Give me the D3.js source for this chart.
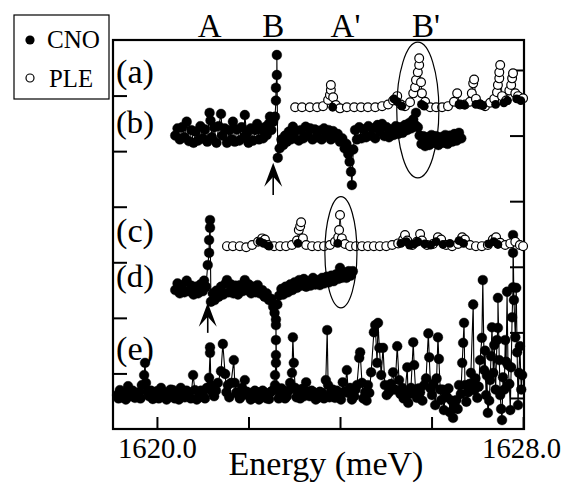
<!DOCTYPE html>
<html><head><meta charset="utf-8">
<script src="https://cdn.jsdelivr.net/npm/d3@7"></script>
<style>
body{margin:0;background:#fff}
svg{display:block}
</style>
</head><body>
<svg id="c" width="572" height="485"></svg>
<script>
// ---------------- data ----------------
const energyTicks = [1620, 1622, 1624, 1626, 1628];
const energyTickLabels = ["1620.0", "", "", "", "1628.0"];
const leftTicks = [1, 2, 3, 4, 5, 6];
const rightTicks = [1, 2, 3, 4, 5, 6];
const panelNames = ["(a)", "(b)", "(c)", "(d)", "(e)"];
const traceOffsets = [5.79, 5.33, 3.29, 2.54, 0.61];   // a, b, c, d, e
const legendNames = ["CNO", "PLE"];
const featureNames = ["A", "B", "A'", "B'"];
const featureEnergies = [1621.15, 1622.54, 1624.12, 1625.88];

// (a) PLE  [energy meV, intensity]
const pleA = [[1623.02,0],[1623.17,0],[1623.34,0],[1623.50,0],[1623.63,0.02],[1623.74,0.13],[1623.78,0.22],[1623.80,0.31],[1623.80,0.40],[1623.85,0.18],[1623.91,0.04],[1624.00,-0.02],[1624.15,0],[1624.31,0],[1624.46,0],[1624.61,0],[1624.77,0],[1624.92,0.02],[1625.05,0.05],[1625.16,0.12],[1625.25,0.20],[1625.33,0.05],[1625.42,0.02],[1625.53,0.09],[1625.60,0.25],[1625.64,0.36],[1625.66,0.49],[1625.70,0.63],[1625.73,0.76],[1625.73,0.88],[1625.77,0.45],[1625.79,0.25],[1625.86,0.10],[1625.97,0],[1626.10,0],[1626.23,0],[1626.36,0.02],[1626.49,0.10],[1626.56,0.25],[1626.62,0.05],[1626.73,0.05],[1626.84,0.10],[1626.88,0.25],[1626.91,0.43],[1626.93,0.50],[1626.97,0.15],[1627.06,0.05],[1627.17,0.02],[1627.28,0.08],[1627.37,0.15],[1627.43,0.27],[1627.45,0.40],[1627.48,0.52],[1627.48,0.63],[1627.50,0.76],[1627.54,0.20],[1627.63,0.12],[1627.70,0.30],[1627.74,0.40],[1627.76,0.52],[1627.78,0.61],[1627.83,0.25],[1627.89,0.20],[1628.00,0.16]];
const cnoA = [[1623.84,0.0],[1625.18,0.15],[1625.25,0.10],[1625.35,0.02],[1625.78,0.05],[1625.84,0.02],[1626.60,0.05],[1626.72,0.04],[1626.97,0.05],[1627.06,0.06],[1627.12,0.03],[1627.40,0.05],[1627.58,0.08],[1627.66,0.12],[1627.86,0.15],[1627.95,0.12]];

// (b) CNO
const cnoB = [[1620.40,-0.05],[1620.45,0.08],[1620.50,-0.12],[1620.55,0.10],[1620.60,-0.08],[1620.65,0.20],[1620.70,-0.15],[1620.75,0.05],[1620.80,-0.18],[1620.85,0.02],[1620.90,-0.14],[1620.95,0.12],[1621.00,-0.10],[1621.05,0.06],[1621.10,-0.16],[1621.15,0.36],[1621.17,0.22],[1621.20,-0.08],[1621.25,0.10],[1621.30,-0.18],[1621.35,0.12],[1621.40,0.34],[1621.43,-0.05],[1621.48,0.08],[1621.53,-0.18],[1621.58,0.05],[1621.63,-0.12],[1621.66,0.20],[1621.70,-0.16],[1621.75,0.06],[1621.80,-0.14],[1621.85,0.10],[1621.90,-0.08],[1621.92,0.32],[1621.96,-0.02],[1622.00,-0.18],[1622.05,0.08],[1622.10,-0.14],[1622.15,0.05],[1622.19,0.16],[1622.23,-0.12],[1622.28,0.06],[1622.32,-0.10],[1622.36,0.10],[1622.40,-0.04],[1622.44,0.16],[1622.47,0.29],[1622.50,0.05],[1622.54,0.20],[1622.58,0.29],[1622.60,0.58],[1622.60,0.81],[1622.62,1.04],[1622.62,1.40],[1622.64,-0.45],[1622.68,-0.28],[1622.72,-0.12],[1622.76,-0.22],[1622.80,-0.05],[1622.84,-0.16],[1622.88,0.02],[1622.92,-0.12],[1622.97,0.11],[1623.01,-0.10],[1623.05,0.04],[1623.10,-0.14],[1623.15,0.05],[1623.20,-0.10],[1623.25,0.11],[1623.30,-0.05],[1623.35,0.08],[1623.40,-0.12],[1623.45,0.06],[1623.50,-0.08],[1623.55,0.04],[1623.60,-0.12],[1623.65,0.08],[1623.70,-0.04],[1623.75,0.05],[1623.80,-0.12],[1623.85,0.03],[1623.90,-0.08],[1623.95,-0.02],[1624.00,-0.16],[1624.05,-0.10],[1624.10,-0.28],[1624.14,-0.20],[1624.18,-0.38],[1624.21,-0.52],[1624.24,-0.70],[1624.26,-0.94],[1624.29,-0.30],[1624.33,0.05],[1624.37,-0.12],[1624.42,0.10],[1624.47,-0.10],[1624.52,0.06],[1624.57,-0.08],[1624.62,0.12],[1624.67,-0.05],[1624.72,0.08],[1624.77,-0.10],[1624.82,0.14],[1624.87,0.02],[1624.92,0.16],[1624.97,-0.06],[1625.02,0.10],[1625.07,-0.08],[1625.12,0.06],[1625.17,-0.04],[1625.22,0.12],[1625.27,-0.02],[1625.32,0.10],[1625.37,0.0],[1625.42,0.14],[1625.47,0.05],[1625.52,0.18],[1625.56,0.08],[1625.60,0.24],[1625.64,0.14],[1625.66,0.36],[1625.70,0.10],[1625.74,-0.05],[1625.78,-0.20],[1625.82,-0.06],[1625.86,-0.24],[1625.90,-0.08],[1625.95,-0.22],[1626.00,-0.04],[1626.05,-0.18],[1626.10,-0.06],[1626.15,-0.22],[1626.20,-0.08],[1626.25,-0.18],[1626.30,-0.04],[1626.35,-0.20],[1626.40,-0.05],[1626.45,-0.16],[1626.50,-0.02],[1626.55,-0.14],[1626.60,0.0],[1626.65,-0.10]];

// (c) PLE
const pleC = [[1621.53,0],[1621.66,0],[1621.81,0],[1621.95,-0.02],[1622.08,0.02],[1622.21,0.08],[1622.30,0.14],[1622.36,0.12],[1622.43,0.02],[1622.56,0],[1622.69,0],[1622.82,0],[1622.95,0.02],[1623.06,0.10],[1623.10,0.29],[1623.13,0.36],[1623.15,0.43],[1623.19,0.14],[1623.26,0.02],[1623.39,0],[1623.52,0],[1623.65,0],[1623.78,0.02],[1623.89,0.08],[1623.96,0.16],[1623.98,0.29],[1624.00,0.56],[1624.04,0.14],[1624.11,0.04],[1624.22,0],[1624.35,0],[1624.48,0],[1624.61,0],[1624.74,0],[1624.87,0],[1625.01,0],[1625.14,0.02],[1625.27,0.05],[1625.38,0.12],[1625.42,0.20],[1625.47,0.10],[1625.58,0.02],[1625.68,0.08],[1625.75,0.22],[1625.79,0.10],[1625.90,0.02],[1626.03,0.04],[1626.14,0.16],[1626.21,0.12],[1626.32,0.02],[1626.45,0],[1626.58,0.04],[1626.67,0.16],[1626.73,0.12],[1626.84,0.02],[1626.97,0],[1627.10,0],[1627.23,0.02],[1627.34,0.12],[1627.41,0.16],[1627.50,0.06],[1627.61,0.02],[1627.72,0.05],[1627.83,0.08],[1627.93,0.02],[1628.00,0]];
const cnoC = [[1622.25,0.08],[1622.33,0.05],[1622.45,0.0],[1623.08,0.05],[1623.95,0.05],[1625.33,0.05],[1625.45,0.08],[1625.52,0.02],[1625.62,0.04],[1625.70,0.08],[1625.85,0.04],[1625.98,0.02],[1626.10,0.08],[1626.25,0.03],[1626.40,0.05],[1626.60,0.10],[1626.70,0.05],[1627.25,0.04],[1627.36,0.08],[1627.45,0.03]];

// (d) CNO
const cnoD = [[1620.40,-0.04],[1620.45,0.08],[1620.50,-0.10],[1620.55,0.05],[1620.60,-0.08],[1620.65,0.13],[1620.70,-0.06],[1620.75,0.04],[1620.80,-0.12],[1620.85,0.02],[1620.90,-0.10],[1620.95,0.06],[1621.00,-0.06],[1621.03,0.13],[1621.07,0.02],[1621.11,0.41],[1621.14,0.63],[1621.14,0.86],[1621.16,1.08],[1621.16,1.22],[1621.18,-0.25],[1621.22,-0.10],[1621.26,-0.22],[1621.30,-0.05],[1621.35,-0.16],[1621.40,0.02],[1621.45,-0.12],[1621.50,0.08],[1621.53,0.14],[1621.57,-0.08],[1621.62,0.06],[1621.67,-0.10],[1621.72,0.04],[1621.77,-0.12],[1621.82,0.05],[1621.87,-0.06],[1621.92,0.14],[1621.96,-0.04],[1622.01,0.06],[1622.06,-0.10],[1622.11,0.02],[1622.16,-0.08],[1622.20,0.05],[1622.25,-0.10],[1622.30,-0.04],[1622.35,-0.16],[1622.40,-0.10],[1622.45,-0.22],[1622.50,-0.20],[1622.54,-0.34],[1622.57,-0.45],[1622.60,-0.57],[1622.63,-0.30],[1622.67,-0.14],[1622.72,-0.02],[1622.76,-0.12],[1622.81,0.02],[1622.86,-0.08],[1622.91,0.06],[1622.96,-0.04],[1623.01,0.10],[1623.06,0.0],[1623.11,0.14],[1623.16,0.04],[1623.21,0.16],[1623.26,0.02],[1623.31,0.12],[1623.36,0.04],[1623.41,0.18],[1623.46,0.06],[1623.51,0.14],[1623.56,0.05],[1623.61,0.18],[1623.66,0.08],[1623.71,0.20],[1623.76,0.10],[1623.81,0.22],[1623.86,0.12],[1623.91,0.24],[1623.96,0.16],[1624.00,0.36],[1624.04,0.18],[1624.09,0.28],[1624.14,0.18],[1624.19,0.30],[1624.24,0.22],[1624.28,0.30]];

// (e) CNO
const cnoE = [[1619.13,0],[1619.16,-0.06],[1619.19,0.09],[1619.23,-0.04],[1619.28,0.04],[1619.32,-0.08],[1619.37,0.16],[1619.40,0.05],[1619.43,-0.02],[1619.47,0.08],[1619.52,-0.05],[1619.56,0.02],[1619.61,0.05],[1619.64,-0.06],[1619.67,0.18],[1619.72,0.36],[1619.74,0.58],[1619.76,0.22],[1619.79,0.06],[1619.83,-0.02],[1619.87,0.08],[1619.91,-0.07],[1619.95,0.04],[1620.00,0.07],[1620.04,-0.06],[1620.09,0.13],[1620.13,-0.02],[1620.17,0.05],[1620.21,-0.08],[1620.26,-0.02],[1620.30,0.10],[1620.35,0.09],[1620.39,-0.06],[1620.44,0.02],[1620.48,-0.08],[1620.52,0.13],[1620.56,0.0],[1620.61,-0.04],[1620.65,0.08],[1620.70,0.05],[1620.74,-0.06],[1620.79,0.36],[1620.83,0.09],[1620.87,-0.08],[1620.92,-0.04],[1620.96,0.08],[1621.01,0.05],[1621.05,-0.06],[1621.09,0.13],[1621.14,0.31],[1621.16,0.76],[1621.16,0.86],[1621.18,0.18],[1621.22,0.04],[1621.25,-0.02],[1621.29,0.08],[1621.33,0.22],[1621.40,0.43],[1621.44,0.92],[1621.49,0.38],[1621.52,0.05],[1621.55,0.18],[1621.58,-0.04],[1621.62,0.22],[1621.68,0.63],[1621.70,0.22],[1621.74,0.05],[1621.77,0.02],[1621.81,-0.06],[1621.86,0.13],[1621.89,0.0],[1621.92,0.27],[1621.96,0.06],[1622.01,0.04],[1622.05,-0.08],[1622.10,-0.05],[1622.14,0.08],[1622.19,0.05],[1622.23,-0.08],[1622.27,-0.04],[1622.31,0.08],[1622.36,0.04],[1622.40,-0.06],[1622.45,-0.07],[1622.49,0.06],[1622.54,0.09],[1622.58,0.18],[1622.58,0.36],[1622.60,0.58],[1622.60,0.72],[1622.60,0.99],[1622.60,1.26],[1622.62,0.13],[1622.66,-0.06],[1622.69,0],[1622.72,0.12],[1622.75,0.09],[1622.80,-0.06],[1622.84,-0.02],[1622.88,0.08],[1622.91,0.22],[1622.95,0.40],[1622.97,1.04],[1622.99,0.58],[1623.02,0.13],[1623.05,-0.04],[1623.08,0.04],[1623.13,-0.06],[1623.17,0.11],[1623.21,-0.02],[1623.26,0.23],[1623.30,0.06],[1623.34,-0.02],[1623.38,0.08],[1623.43,0.05],[1623.47,-0.08],[1623.52,-0.05],[1623.56,0.06],[1623.61,0.04],[1623.65,-0.06],[1623.69,0.27],[1623.72,1.17],[1623.74,0.18],[1623.77,-0.04],[1623.80,0.05],[1623.84,0.10],[1623.89,-0.05],[1623.93,0.08],[1623.98,0.04],[1624.02,-0.08],[1624.06,0.23],[1624.10,0.06],[1624.15,0.45],[1624.18,0.04],[1624.22,0.13],[1624.26,-0.08],[1624.31,-0.02],[1624.34,0.10],[1624.37,0.18],[1624.42,0.67],[1624.44,0.77],[1624.48,0.22],[1624.51,-0.06],[1624.55,0.05],[1624.58,-0.10],[1624.61,0.18],[1624.64,0.04],[1624.68,0.41],[1624.74,1.13],[1624.77,1.26],[1624.81,0.58],[1624.83,1.30],[1624.86,0.85],[1624.90,0.36],[1624.94,0.85],[1624.98,0.18],[1625.02,0.0],[1625.07,0.05],[1625.11,0.20],[1625.16,0.41],[1625.20,0.10],[1625.25,0.88],[1625.29,0.27],[1625.32,0.02],[1625.36,0.13],[1625.39,-0.06],[1625.42,0.04],[1625.47,0.50],[1625.49,-0.14],[1625.52,0.02],[1625.55,0.13],[1625.60,0.95],[1625.62,0.54],[1625.65,0.10],[1625.68,-0.05],[1625.72,0.12],[1625.75,0.05],[1625.80,-0.10],[1625.84,0.18],[1625.88,0.30],[1625.93,1.11],[1625.95,0.68],[1625.98,0.12],[1626.01,0],[1626.04,0.20],[1626.08,-0.18],[1626.11,0.30],[1626.14,1.04],[1626.16,0.65],[1626.19,0.10],[1626.21,-0.09],[1626.24,0.10],[1626.27,-0.27],[1626.31,0.08],[1626.34,-0.04],[1626.37,0.12],[1626.40,-0.31],[1626.44,-0.10],[1626.47,-0.41],[1626.50,-0.20],[1626.54,-0.09],[1626.57,-0.25],[1626.60,0.18],[1626.64,0.02],[1626.67,0.58],[1626.69,0.94],[1626.71,1.30],[1626.73,0.18],[1626.76,-0.12],[1626.80,0.05],[1626.83,0.20],[1626.86,0.40],[1626.91,1.63],[1626.93,0.09],[1626.96,0.30],[1627.00,-0.05],[1627.03,0.15],[1627.06,0.63],[1627.10,1.03],[1627.12,2.07],[1627.15,0.45],[1627.17,0.80],[1627.19,0],[1627.21,0.35],[1627.23,-0.32],[1627.26,-0.10],[1627.28,0.27],[1627.30,0.70],[1627.32,1.22],[1627.35,0.40],[1627.37,0.90],[1627.40,0.10],[1627.43,0.99],[1627.45,1.21],[1627.45,1.75],[1627.48,0.63],[1627.50,0],[1627.52,-0.25],[1627.54,-0.45],[1627.56,0.32],[1627.59,0.10],[1627.61,0.99],[1627.63,0.60],[1627.65,1.86],[1627.67,0.54],[1627.70,0.20],[1627.72,-0.27],[1627.74,0.50],[1627.76,1.40],[1627.78,1.94],[1627.78,2.56],[1627.78,2.88],[1627.80,1.71],[1627.83,1.04],[1627.85,1.93],[1627.87,0.77],[1627.89,-0.18],[1627.91,0.40],[1627.93,0.88],[1627.96,0.10],[1627.98,0.36]];

// annotations in data coordinates
const ellipses = [[1625.70, 5.74, 0.46, 1.22], [1624.02, 3.18, 0.35, 1.00]]; // [E, I, rx meV, ry]
const arrows = [[1622.54, 4.79, 4.21], [1621.11, 2.27, 1.73]];                // [E, tip, tail]

// ---------------- drawing ----------------
const FONT = '"Liberation Serif", "Times New Roman", Tinos, serif';
const svg = d3.select("#c");
const L = 113, R = 524, T = 40, B = 429;
const x = d3.scaleLinear().domain([1619.04, 1628.02]).range([L, R]);
const y = d3.scaleLinear().domain([0, 7]).range([B, T]);
const yR = d3.scaleLinear().domain([0.527, 6.457]).range([B, T]);

function fitWidth(sel, w) {
  const n = sel.node();
  const cur = n.getComputedTextLength();
  if (cur > 0) {
    const fs = parseFloat(sel.attr("font-size"));
    sel.attr("font-size", (fs * w / cur).toFixed(2));
  }
  return sel;
}
function addText(px, py, txt, size, anchor) {
  return svg.append("text").attr("x", px).attr("y", py).attr("font-size", size)
    .attr("text-anchor", anchor || "start").style("font-family", FONT)
    .attr("fill", "#000").text(txt);
}

// axes
const gx = svg.append("g").attr("transform", `translate(0,${B})`)
  .call(d3.axisBottom(x).tickValues(energyTicks).tickSize(-12).tickPadding(9)
    .tickFormat((d, i) => energyTickLabels[i]));
gx.select(".domain").remove();
gx.selectAll(".tick line").attr("stroke", "#000").attr("stroke-width", 2);
gx.selectAll(".tick text").attr("font-size", 28).style("font-family", FONT).attr("fill", "#000")
  .each(function () { if (this.textContent) fitWidth(d3.select(this), 79); });
gx.selectAll(".tick text").filter((d) => d === 1628).attr("dx", -2);

const gl = svg.append("g").attr("transform", `translate(${L},0)`)
  .call(d3.axisLeft(y).tickValues(leftTicks).tickSize(-14).tickFormat(""));
gl.select(".domain").remove();
gl.selectAll(".tick line").attr("stroke", "#000").attr("stroke-width", 2);

const gr = svg.append("g").attr("transform", `translate(${R},0)`)
  .call(d3.axisRight(yR).tickValues(rightTicks).tickSize(-14).tickFormat(""));
gr.select(".domain").remove();
gr.selectAll(".tick line").attr("stroke", "#000").attr("stroke-width", 2);

// frame
svg.append("rect").attr("x", L).attr("y", T).attr("width", R - L).attr("height", B - T)
  .attr("fill", "none").attr("stroke", "#000").attr("stroke-width", 2.2);

function drawTrace(pts, off, open) {
  const line = d3.line().x(d => x(d[0])).y(d => y(d[1] + off));
  const g = svg.append("g");
  g.append("path").attr("d", line(pts)).attr("fill", "none")
    .attr("stroke", "#000").attr("stroke-width", open ? 0.9 : 1.1);
  g.selectAll("circle").data(pts).join("circle")
    .attr("cx", d => x(d[0])).attr("cy", d => y(d[1] + off))
    .attr("r", open ? 4.4 : 4.9)
    .attr("fill", open ? "#fff" : "#000")
    .attr("stroke", "#000").attr("stroke-width", open ? 1.2 : 0.4);
}
function drawDots(pts, off) {
  svg.append("g").selectAll("circle").data(pts).join("circle")
    .attr("cx", d => x(d[0])).attr("cy", d => y(d[1] + off))
    .attr("r", 4.4).attr("fill", "#000");
}

drawTrace(cnoE, traceOffsets[4], false);
drawTrace(cnoD, traceOffsets[3], false);
drawTrace(pleC, traceOffsets[2], true);
drawDots(cnoC, traceOffsets[2]);
drawTrace(cnoB, traceOffsets[1], false);
drawTrace(pleA, traceOffsets[0], true);
drawDots(cnoA, traceOffsets[0]);

// ellipses
ellipses.forEach(e => {
  svg.append("ellipse").attr("cx", x(e[0])).attr("cy", y(e[1]))
    .attr("rx", x(e[0] + e[2]) - x(e[0])).attr("ry", y(e[1] - e[3]) - y(e[1]))
    .attr("fill", "none").attr("stroke", "#000").attr("stroke-width", 1.2);
});

// arrows
arrows.forEach(a => {
  const ax = x(a[0]), tip = y(a[1]), tail = y(a[2]);
  svg.append("line").attr("x1", ax).attr("x2", ax).attr("y1", tip + 4).attr("y2", tail)
    .attr("stroke", "#000").attr("stroke-width", 1.6);
  svg.append("path")
    .attr("d", `M${ax},${tip} L${ax - 9},${tip + 24} L${ax},${tip + 14} L${ax + 9},${tip + 24} Z`)
    .attr("fill", "#000");
});

// feature labels on top
featureNames.forEach((n, i) => addText(x(featureEnergies[i]), 37, n, 33, "middle"));

// panel labels
const panelBaselines = [83, 133, 242, 287, 360];
panelNames.forEach((n, i) => fitWidth(addText(116, panelBaselines[i], n, 28), 38));

// x-axis title
fitWidth(addText(326, 475, "Energy (meV)", 32, "middle"), 195);

// legend
svg.append("rect").attr("x", 14).attr("y", 15).attr("width", 95).attr("height", 84)
  .attr("fill", "#fff").attr("stroke", "#000").attr("stroke-width", 1.2);
svg.append("circle").attr("cx", 30).attr("cy", 40).attr("r", 4.6).attr("fill", "#000");
svg.append("circle").attr("cx", 30).attr("cy", 78).attr("r", 4).attr("fill", "#fff")
  .attr("stroke", "#000").attr("stroke-width", 1.2);
fitWidth(addText(47, 48, legendNames[0], 24), 53);
fitWidth(addText(49, 87, legendNames[1], 24), 44);
</script>
</body></html>
